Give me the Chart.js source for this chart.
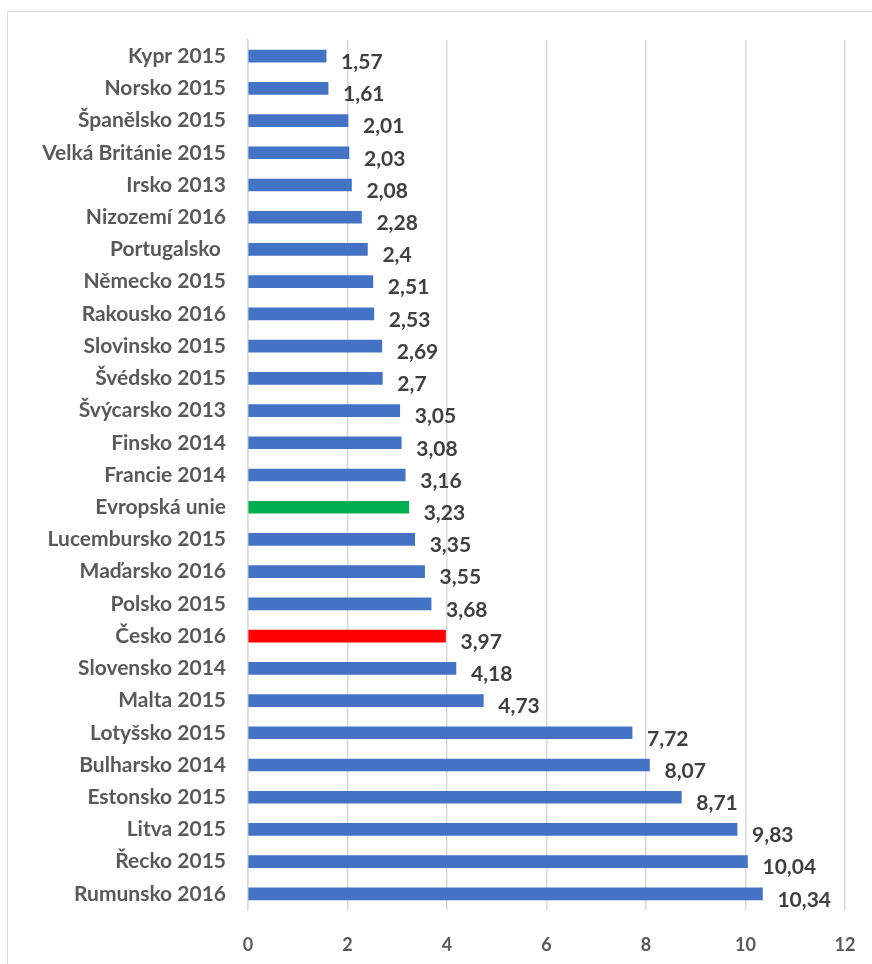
<!DOCTYPE html>
<html>
<head>
<meta charset="utf-8">
<script src="https://cdn.jsdelivr.net/npm/chart.js@4"></script>
<style>
  body { margin: 0; background: #fff; overflow: hidden; }
  #frame { position: absolute; left: 7px; top: 11px; width: 900px; height: 990px; border: 1px solid #d9d9d9; }
  #wrap { position: absolute; left: 0; top: 0; width: 872px; height: 964px; }
</style>
</head>
<body>
<div id="frame"></div>
<div id="wrap"><canvas id="myChart"></canvas></div>
<script>
const categories = ['Kypr 2015', 'Norsko 2015', 'Španělsko 2015', 'Velká Británie 2015', 'Irsko 2013',
  'Nizozemí 2016', 'Portugalsko ', 'Německo 2015', 'Rakousko 2016', 'Slovinsko 2015', 'Švédsko 2015',
  'Švýcarsko 2013', 'Finsko 2014', 'Francie 2014', 'Evropská unie', 'Lucembursko 2015', 'Maďarsko 2016',
  'Polsko 2015', 'Česko 2016', 'Slovensko 2014', 'Malta 2015', 'Lotyšsko 2015', 'Bulharsko 2014',
  'Estonsko 2015', 'Litva 2015', 'Řecko 2015', 'Rumunsko 2016']
const values = [1.57, 1.61, 2.01, 2.03, 2.08, 2.28, 2.4, 2.51, 2.53, 2.69, 2.7, 3.05, 3.08, 3.16, 3.23,
  3.35, 3.55, 3.68, 3.97, 4.18, 4.73, 7.72, 8.07, 8.71, 9.83, 10.04, 10.34]
const xTicks = [0, 2, 4, 6, 8, 10, 12]

const barColors = categories.map(function (c) {
  if (c == 'Evropská unie') return '#00B050'
  if (c == 'Česko 2016') return '#FF0000'
  return '#4472C4'
})

// values written next to each bar
const valueLabels = {
  id: 'valueLabels',
  afterDatasetsDraw(chart) {
    let ctx = chart.ctx
    let meta = chart.getDatasetMeta(0)
    ctx.save()
    ctx.font = 'bold 21px Lato'
    ctx.fillStyle = '#404040'
    ctx.textBaseline = 'middle'
    meta.data.forEach(function (bar, i) {
      ctx.fillText(String(values[i]).replace('.', ','), bar.x + 15, bar.y + 6)
    })
    ctx.restore()
  }
}

const ctx = document.getElementById('myChart')

new Chart(ctx, {
  type: 'bar',
  data: {
    labels: categories,
    datasets: [{
      data: values,
      backgroundColor: barColors,
      barThickness: 12
    }]
  },
  options: {
    indexAxis: 'y',
    responsive: true,
    maintainAspectRatio: false,
    animation: false,
    layout: { padding: { top: 40, right: 27, left: 0, bottom: 0 } },
    plugins: {
      legend: { display: false },
      tooltip: { enabled: false }
    },
    scales: {
      x: {
        min: 0,
        max: 12,
        afterBuildTicks: function (scale) {
          scale.ticks = xTicks.map(function (v) { return { value: v } })
        },
        afterFit: function (scale) { scale.height = 54; scale.paddingRight = 0 },
        grid: { color: '#d9d9d9', lineWidth: 1.5, drawTicks: false },
        border: { display: false },
        ticks: { color: '#595959', font: { family: 'Lato', size: 18, weight: 'bold' }, padding: 24 }
      },
      y: {
        afterFit: function (scale) { scale.width = 248 },
        grid: { display: false, drawTicks: false },
        border: { color: '#d9d9d9', width: 1.5 },
        ticks: { color: '#595959', font: { family: 'Lato', size: 21, weight: 'bold' }, padding: 22, autoSkip: false }
      }
    }
  },
  plugins: [valueLabels]
})
</script>
</body>
</html>
